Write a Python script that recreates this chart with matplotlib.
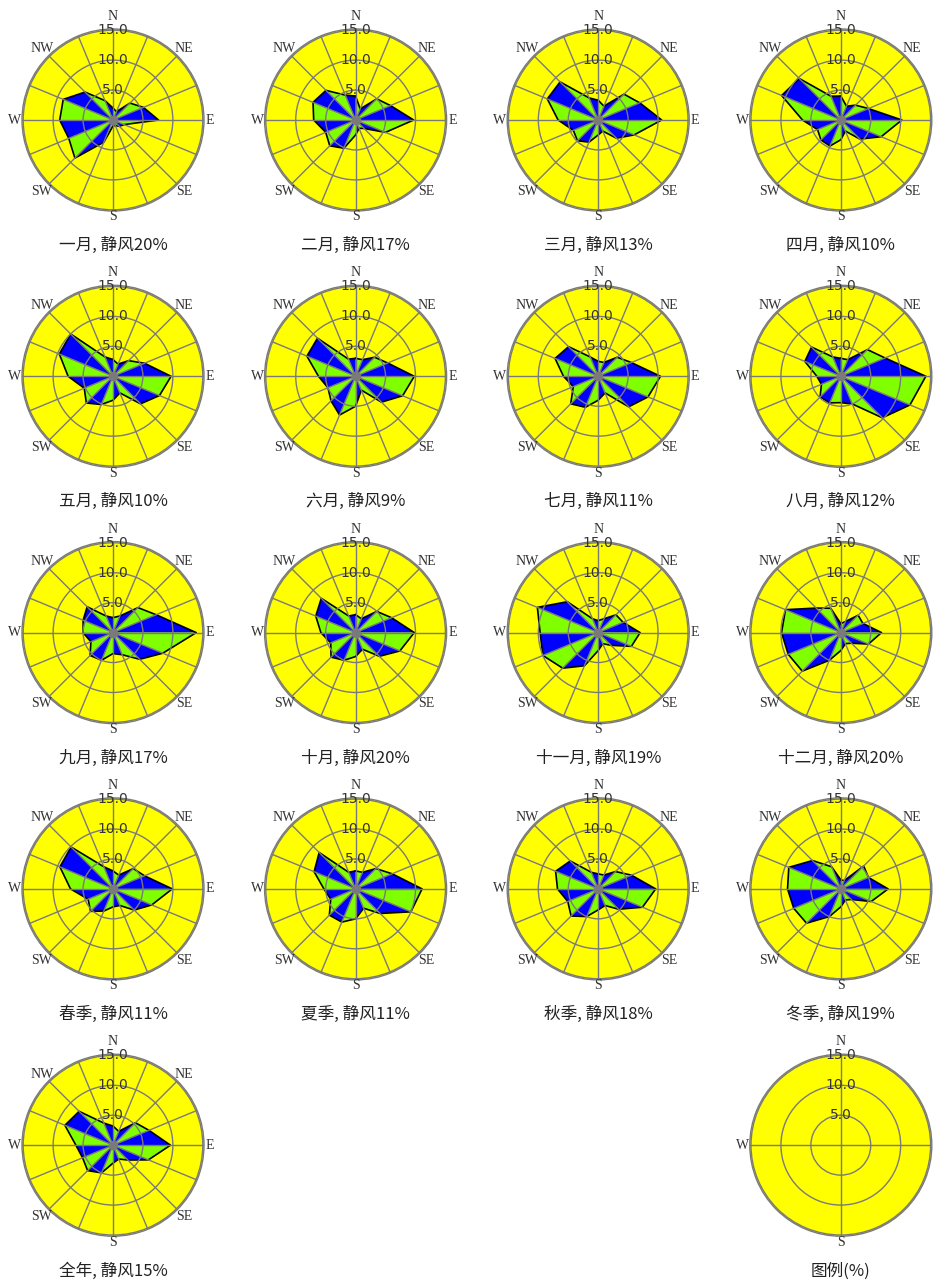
import numpy as np
import matplotlib
matplotlib.use('Agg')
import matplotlib.pyplot as plt

plt.rcParams['font.family'] = ['Noto Sans CJK SC', 'DejaVu Sans']

DIRS = ['N', 'NNE', 'NE', 'ENE', 'E', 'ESE', 'SE', 'SSE',
        'S', 'SSW', 'SW', 'WSW', 'W', 'WNW', 'NW', 'NNW']
LABELS = {0: 'N', 2: 'NE', 4: 'E', 6: 'SE', 8: 'S', 10: 'SW', 12: 'W', 14: 'NW'}

PERIODS = ['一月', '二月', '三月', '四月', '五月', '六月', '七月', '八月',
           '九月', '十月', '十一月', '十二月', '春季', '夏季', '秋季', '冬季', '全年']
CALM = [20, 17, 13, 10, 10, 9, 11, 12, 17, 20, 19, 20, 11, 11, 18, 19, 15]

# frequency (%) per direction, N clockwise
jan = [2, 1.5, 4, 5.5, 7.6, 2, 1.5, 1, 1, 4, 9, 8, 8.9, 9, 6.6, 3.5]
feb = [4, 2, 5, 6.3, 9.7, 5.4, 2, 1.5, 2.5, 5.1, 6.1, 5.4, 7, 7.7, 7, 4.5]
mar = [3.3, 2.5, 6.1, 7.5, 10.6, 6.5, 4.3, 2, 2.5, 4, 4.9, 4.5, 6.7, 9.2, 9, 4]
apr = [4, 2.5, 3.5, 5, 10.2, 7.3, 4.5, 2, 3.3, 4.7, 4.7, 4.2, 6.4, 10.7, 9.8, 4.3]
may = [2.8, 2.2, 3.7, 5.7, 9.7, 8.4, 6.5, 3, 4, 5.1, 6.3, 5.2, 7.5, 9.7, 10, 3.5]
jun = [3, 3, 4.5, 5.8, 9.8, 8.5, 6.1, 2.5, 5, 7, 5.8, 5, 6.2, 8.8, 9, 3.1]
jul = [2.5, 2.5, 4.5, 6, 10.4, 9, 7.2, 3, 4, 5.6, 6.5, 4.5, 5.8, 7.8, 7, 3.5]
aug = [3, 3, 6.3, 8, 14.2, 12.5, 9.8, 5, 4.4, 4.8, 4.9, 3.5, 4, 6.5, 6.9, 3.5]
sep = [2.5, 3, 5.9, 7.8, 13.9, 9, 6.3, 4, 3.5, 5, 5.4, 4, 5, 5.4, 6.1, 3]
oct_ = [3, 2.5, 5, 6.5, 9.8, 8, 5.6, 3, 4, 5, 5.8, 4.5, 5.8, 7.2, 8.1, 3]
nov = [2, 2.5, 4.2, 4.5, 7, 6, 3, 2, 3, 6, 8.4, 10, 9.7, 11, 7.3, 2.5]
dec = [1.5, 2, 4.1, 4, 6.8, 5, 2.5, 2, 3, 5, 9.1, 9.5, 9.9, 10, 5.8, 4.4]
spring = [3, 2.5, 4.8, 5.7, 9.9, 7, 5, 3, 3, 4, 5.3, 4.5, 7.1, 9.6, 9.9, 4]
summer = [3, 3, 4.8, 6.6, 11.1, 10, 5.8, 3.5, 5, 6, 6.2, 4.5, 5.3, 7.5, 8.6, 3]
autumn = [2.5, 2.5, 4.1, 6, 9.6, 8, 4.8, 3, 3.5, 5, 6.4, 5.5, 6.8, 7.7, 6.6, 3]
winter = [1.5, 1.5, 5.4, 5, 7.9, 5.5, 2.5, 2, 3, 5, 8.1, 8.5, 8.9, 9.4, 6.7, 4]
year = [3.2, 2.5, 5.3, 6.5, 9.6, 6.4, 3.5, 2.5, 3, 5, 6, 5.5, 6.2, 8.7, 8, 4]

ROSES = [jan, feb, mar, apr, may, jun, jul, aug, sep, oct_, nov, dec,
         spring, summer, autumn, winter, year]

RINGS = [5, 10, 15]
RMAX = 15.2

W, H = 934, 1284
R_PX = 91
X0, DX = 113, 242.6
Y0, DY = 120, 256.3

YELLOW = '#FFFF00'
BLUE = '#0000FF'
GREEN = '#80FF00'
GRID = '#7a7a7a'
TXT = '#333333'


def make_axes(fig, row, col):
    cx = X0 + col * DX
    cy = Y0 + row * DY
    rect = [(cx - R_PX) / W, 1 - (cy + R_PX) / H, 2 * R_PX / W, 2 * R_PX / H]
    ax = fig.add_axes(rect, projection='polar')
    ax.set_theta_zero_location('N')
    ax.set_theta_direction(-1)
    ax.set_ylim(0, RMAX)
    ax.set_facecolor(YELLOW)
    ax.spines['polar'].set_color(GRID)
    ax.spines['polar'].set_linewidth(1.0)
    ax.set_yticks(RINGS)
    ax.set_yticklabels([])
    ax.set_xticklabels([])
    ax.tick_params(length=0)
    ax.set_axisbelow(False)
    ax.grid(True, color=GRID, linewidth=1.0)
    for r in RINGS:
        ax.text(0, r, f'{r:.1f}', ha='center', va='center',
                fontsize=10, color=TXT, family='DejaVu Sans', zorder=6)
    return ax


def label_radius(lab):
    return {'N': 17.3, 'S': 16.2, 'E': 16.2, 'W': 16.4}.get(lab, 16.8)


def draw_rose(ax, vals, title, right_edge=False):
    n = len(vals)
    theta = np.arange(n) * 2 * np.pi / n
    ax.set_xticks(theta)
    r = np.array(vals)
    for i in range(n):
        j = (i + 1) % n
        c = BLUE if i % 2 else GREEN
        ax.fill([0, theta[i], theta[i] + 2 * np.pi / n], [0, r[i], r[j]],
                color=c, linewidth=0, zorder=1)
    ax.plot(np.append(theta, 2 * np.pi), np.append(r, r[0]),
            color='black', linewidth=1.2, zorder=2)
    ax.scatter([0], [0], s=34, color=GRID, zorder=5)
    for k, lab in LABELS.items():
        if right_edge and lab == 'E':
            continue  # falls outside the picture
        ax.text(theta[k], label_radius(lab), lab, ha='center', va='center',
                fontsize=10, color=TXT, family='Liberation Serif', zorder=6)
    ax.text(0.5, -0.19, title, transform=ax.transAxes, ha='center',
            va='center', fontsize=12, color='#222222')


fig = plt.figure(figsize=(W / 100, H / 100), dpi=100)

for k, vals in enumerate(ROSES):
    row, col = divmod(k, 4)
    ax = make_axes(fig, row, col)
    draw_rose(ax, vals, f'{PERIODS[k]}, 静风{CALM[k]}%', right_edge=(col == 3))

# legend panel
ax = make_axes(fig, 4, 3)
ax.set_xticks(np.arange(4) * np.pi / 2)
for ang, lab in [(0, 'N'), (np.pi, 'S'), (1.5 * np.pi, 'W')]:
    ax.text(ang, label_radius(lab), lab, ha='center', va='center', fontsize=10,
            color=TXT, family='Liberation Serif')
ax.text(0.5, -0.19, '图例(%)', transform=ax.transAxes, ha='center',
        va='center', fontsize=12, color='#222222')

fig.savefig('out.png', dpi=100, facecolor='white')
